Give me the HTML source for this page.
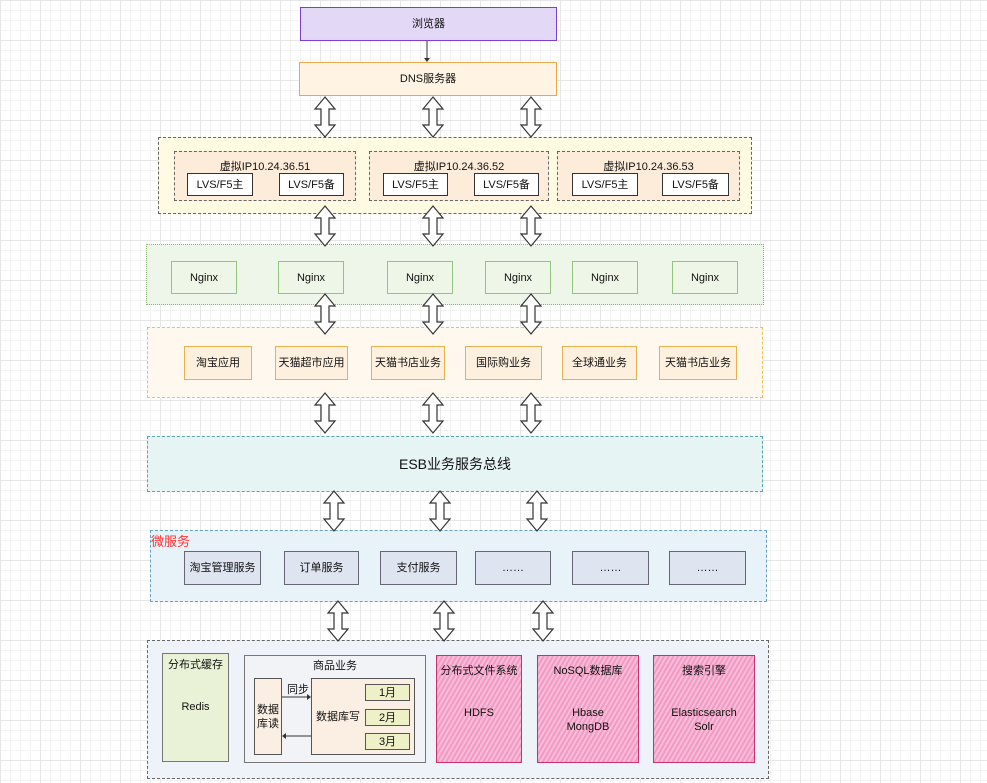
<!DOCTYPE html>
<html><head><meta charset="utf-8"><style>
body{margin:0;width:987px;height:783px;overflow:hidden;background:#fff;
background-image:linear-gradient(#e6e6e6 1px,transparent 1px),linear-gradient(90deg,#e6e6e6 1px,transparent 1px),linear-gradient(#f3f3f3 1px,transparent 1px),linear-gradient(90deg,#f3f3f3 1px,transparent 1px);
background-size:40px 40px,40px 40px,10px 10px,10px 10px;font-family:"Liberation Sans","Noto Sans CJK SC",sans-serif;font-size:11px;color:#111;position:relative}
.b{position:absolute;box-sizing:border-box;display:flex;align-items:center;justify-content:center;text-align:center;line-height:14px}
.t{position:absolute;white-space:nowrap}
.l{background:#fff;border:1px solid #333;height:23px;top:173px}
.n{top:261px;height:33px;width:66px;background:#eef6e8;border:1.5px solid #93c47d}
.a{top:346px;height:34px;background:#fdf0de;border:1.5px solid #e8b050}
.m{top:551px;height:34px;background:#dfe5f0;border:1.5px solid #667}
.mo{left:365px;width:45px;height:17px;background:#eef0c8;border:1.5px solid #555}
.p{top:655px;height:108px;background:repeating-linear-gradient(120deg,#f29ac4 0 2px,#f7bcd8 2px 4px);border:1.5px solid #c8306e;align-items:flex-start}
</style></head><body>
<div class="b" style="left:300px;top:7px;width:257px;height:34px;background:#e4d8f7;border:1.5px solid #7d3fcf">浏览器</div>
<div class="b" style="left:299px;top:62px;width:258px;height:34px;background:#fff3e3;border:1.5px solid #e6a84a">DNS服务器</div>

<div class="b" style="left:158px;top:137px;width:594px;height:77px;background:#fffbe3;border:1px dashed #666"></div>
<div class="b" style="left:174px;top:151px;width:182px;height:50px;background:#fdecd9;border:1px dashed #666"></div>
<div class="b" style="left:369px;top:151px;width:180px;height:50px;background:#fdecd9;border:1px dashed #666"></div>
<div class="b" style="left:557px;top:151px;width:183px;height:50px;background:#fdecd9;border:1px dashed #666"></div>
<div class="t" style="left:174px;width:182px;text-align:center;top:158px">虚拟IP10.24.36.51</div>
<div class="t" style="left:369px;width:180px;text-align:center;top:158px">虚拟IP10.24.36.52</div>
<div class="t" style="left:557px;width:183px;text-align:center;top:158px">虚拟IP10.24.36.53</div>
<div class="b l" style="left:187px;width:66px">LVS/F5主</div>
<div class="b l" style="left:279px;width:65px">LVS/F5备</div>
<div class="b l" style="left:383px;width:65px">LVS/F5主</div>
<div class="b l" style="left:474px;width:65px">LVS/F5备</div>
<div class="b l" style="left:572px;width:66px">LVS/F5主</div>
<div class="b l" style="left:662px;width:67px">LVS/F5备</div>

<div class="b" style="left:146px;top:244px;width:618px;height:61px;background:#eef5e9;border:1px dotted #8ab872"></div>
<div class="b n" style="left:171px">Nginx</div>
<div class="b n" style="left:278px">Nginx</div>
<div class="b n" style="left:387px">Nginx</div>
<div class="b n" style="left:485px">Nginx</div>
<div class="b n" style="left:572px">Nginx</div>
<div class="b n" style="left:672px">Nginx</div>

<div class="b" style="left:147px;top:327px;width:616px;height:71px;background:#fff8ee;border:1.5px dashed #f0c050"></div>
<div class="b a" style="left:184px;width:68px">淘宝应用</div>
<div class="b a" style="left:275px;width:73px">天猫超市应用</div>
<div class="b a" style="left:371px;width:74px">天猫书店业务</div>
<div class="b a" style="left:465px;width:77px">国际购业务</div>
<div class="b a" style="left:562px;width:75px">全球通业务</div>
<div class="b a" style="left:659px;width:78px">天猫书店业务</div>

<div class="b" style="left:147px;top:436px;width:616px;height:56px;background:#e6f4f3;border:1.5px dashed #5ba5a5;font-size:14px">ESB业务服务总线</div>

<div class="b" style="left:150px;top:530px;width:617px;height:72px;background:#e8f2f9;border:1.5px dashed #6aa0c0"></div>
<div class="t" style="left:151px;top:531px;color:#ff3333;font-size:13px">微服务</div>
<div class="b m" style="left:184px;width:77px">淘宝管理服务</div>
<div class="b m" style="left:284px;width:75px">订单服务</div>
<div class="b m" style="left:380px;width:77px">支付服务</div>
<div class="b m" style="left:475px;width:76px">……</div>
<div class="b m" style="left:572px;width:77px">……</div>
<div class="b m" style="left:669px;width:77px">……</div>

<div class="b" style="left:147px;top:640px;width:622px;height:139px;background:#eef3fa;border:1px dashed #666"></div>
<div class="b" style="left:162px;top:653px;width:67px;height:109px;background:#e9f2d6;border:1.5px solid #777;align-items:flex-start"><div style="margin-top:4px">分布式缓存<br><br><br>Redis</div></div>
<div class="b" style="left:244px;top:655px;width:182px;height:108px;background:#f1f3f6;border:1.5px solid #777;align-items:flex-start"><div style="margin-top:3px">商品业务</div></div>
<div class="b" style="left:254px;top:678px;width:28px;height:77px;background:#fbeee3;border:1px solid #555">数据<br>库读</div>
<div class="b" style="left:311px;top:678px;width:104px;height:77px;background:#fbeee3;border:1px solid #555;justify-content:flex-start;padding-left:4px">数据库写</div>
<div class="b mo" style="top:684px">1月</div>
<div class="b mo" style="top:709px">2月</div>
<div class="b mo" style="top:733px">3月</div>
<div class="t" style="left:287px;top:681px">同步</div>
<div class="b p" style="left:436px;width:86px"><div style="margin-top:8px">分布式文件系统<br><br><br>HDFS</div></div>
<div class="b p" style="left:537px;width:102px"><div style="margin-top:8px">NoSQL数据库<br><br><br>Hbase<br>MongDB</div></div>
<div class="b p" style="left:653px;width:102px"><div style="margin-top:8px">搜索引擎<br><br><br>Elasticsearch<br>Solr</div></div>

<svg width="987" height="783" style="position:absolute;left:0;top:0" xmlns="http://www.w3.org/2000/svg">
<defs><polygon id="ar" points="10,0 20,12 14,12 14,28 20,28 10,40 0,28 6,28 6,12 0,12" fill="#fff" stroke="#333" stroke-width="1.2"/></defs>
<line x1="427" y1="41" x2="427" y2="59" stroke="#333"/><polygon points="424,58 430,58 427,62" fill="#333"/>
<line x1="282" y1="697" x2="308" y2="697" stroke="#333"/><polygon points="307,694 311,697 307,700" fill="#333"/>
<line x1="311" y1="736" x2="285" y2="736" stroke="#333"/><polygon points="286,733 282,736 286,739" fill="#333"/>
<use href="#ar" x="315" y="97"/><use href="#ar" x="423" y="97"/><use href="#ar" x="521" y="97"/>
<use href="#ar" x="315" y="206"/><use href="#ar" x="423" y="206"/><use href="#ar" x="521" y="206"/>
<use href="#ar" x="315" y="294"/><use href="#ar" x="423" y="294"/><use href="#ar" x="521" y="294"/>
<use href="#ar" x="315" y="393"/><use href="#ar" x="423" y="393"/><use href="#ar" x="521" y="393"/>
<use href="#ar" x="324" y="491"/><use href="#ar" x="430" y="491"/><use href="#ar" x="527" y="491"/>
<use href="#ar" x="328" y="601"/><use href="#ar" x="434" y="601"/><use href="#ar" x="533" y="601"/>
</svg>
</body></html>
